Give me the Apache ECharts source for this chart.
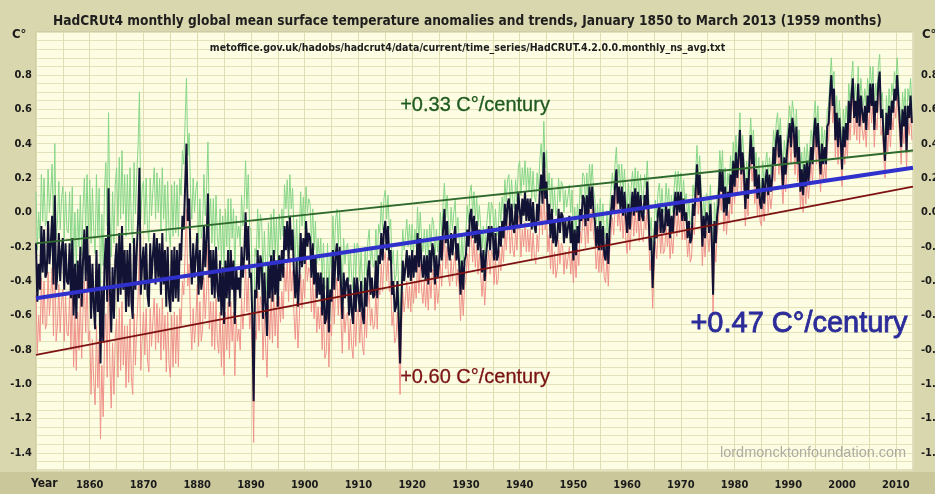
<!DOCTYPE html>
<html><head><meta charset="utf-8">
<script src="https://cdn.jsdelivr.net/npm/echarts@6/dist/echarts.min.js"></script>
<style>html,body{margin:0;padding:0;background:#d9d7ae}#c{width:935px;height:494px}</style>
</head><body><div id="c"></div>
<script>
// ---- data (quarterly estimates of the monthly anomaly band) ----
const startYear = 1850;
const perYear = 4;
const anom1850 = [
-0.18,-0.52,-0.30,-0.45, -0.08,-0.35,-0.10,-0.38, -0.35,-0.05,-0.30,-0.18, -0.02,-0.42,0.10,-0.45,
-0.35,-0.12,-0.40,-0.22, -0.15,-0.45,-0.18,-0.40, -0.42,-0.18,-0.50,-0.15, -0.60,-0.30,-0.62,-0.28,
-0.50,-0.20,-0.55,-0.28, -0.10,-0.40,-0.08,-0.45,
-0.25,-0.62,-0.30,-0.55, -0.68,-0.22,-0.58,-0.30, -0.88,-0.45,-0.75,-0.30, -0.15,-0.52,0.14,-0.45,
-0.70,-0.32,-0.62,-0.28, -0.18,-0.52,-0.12,-0.48, -0.08,-0.45,-0.22,-0.58, -0.22,-0.55,-0.18,-0.52,
-0.62,-0.15,-0.45,-0.22, -0.05,0.26,-0.48,-0.30,
-0.20,-0.45,-0.18,-0.48, -0.55,-0.18,-0.40,-0.25, -0.12,-0.42,-0.15,-0.38, -0.18,-0.48,-0.12,-0.42,
-0.22,-0.55,-0.20,-0.50, -0.58,-0.22,-0.52,-0.20, -0.50,-0.22,-0.52,-0.18, -0.28,-0.02,-0.10,0.15,
0.40,-0.05,0.08,-0.25, -0.42,-0.18,-0.38,-0.25,
-0.12,-0.48,-0.22,-0.45, -0.38,-0.08,-0.32,-0.15, 0.11,-0.38,-0.22,-0.48, -0.22,-0.50,-0.20,-0.45,
-0.52,-0.28,-0.60,-0.32, -0.65,-0.28,-0.50,-0.22, -0.55,-0.22,-0.45,-0.28, -0.65,-0.32,-0.45,-0.38,
-0.50,-0.20,-0.38,-0.25, 0.00,-0.28,-0.08,-0.38
];
const anom1890 = [
-0.35,-0.60,-1.10,-0.45, -0.50,-0.22,-0.45,-0.25, -0.30,-0.62,-0.35,-0.55, -0.72,-0.30,-0.50,-0.25,
-0.52,-0.22,-0.48,-0.28, -0.55,-0.25,-0.40,-0.22, -0.38,-0.08,-0.22,-0.05, -0.28,-0.02,-0.22,-0.10,
-0.35,-0.50,-0.28,-0.55, -0.38,-0.12,-0.32,-0.15,
-0.30,-0.05,-0.20,-0.12, -0.15,-0.38,-0.18,-0.42, -0.25,-0.50,-0.35,-0.48, -0.35,-0.60,-0.38,-0.65,
-0.62,-0.38,-0.70,-0.45, -0.52,-0.22,-0.45,-0.25, -0.18,-0.40,-0.20,-0.42, -0.62,-0.35,-0.50,-0.40,
-0.38,-0.60,-0.42,-0.58, -0.65,-0.38,-0.58,-0.38,
-0.38,-0.58,-0.40,-0.60, -0.65,-0.38,-0.55,-0.35, -0.28,-0.48,-0.38,-0.50, -0.48,-0.28,-0.50,-0.25,
-0.30,-0.12,-0.28,-0.10, -0.05,-0.22,-0.08,-0.28, -0.22,-0.48,-0.40,-0.58, -0.55,-0.40,-0.62,-0.88,
-0.52,-0.28,-0.40,-0.32, -0.22,-0.38,-0.25,-0.40,
-0.22,-0.38,-0.25,-0.35, -0.12,-0.32,-0.15,-0.30, -0.38,-0.25,-0.40,-0.25, -0.42,-0.22,-0.35,-0.18,
-0.22,-0.42,-0.25,-0.38, -0.30,-0.15,-0.28,-0.10, 0.02,-0.18,-0.05,-0.22, -0.28,-0.12,-0.25,-0.15,
-0.08,-0.28,-0.18,-0.30, -0.48,-0.28,-0.45,-0.28
];
const anom1930 = [
-0.25,-0.10,-0.20,-0.02, 0.02,-0.15,-0.02,-0.18, -0.05,-0.22,-0.10,-0.22, -0.35,-0.22,-0.40,-0.25,
-0.25,-0.08,-0.22,-0.08, -0.12,-0.28,-0.12,-0.28, -0.25,-0.08,-0.20,-0.05, -0.15,0.05,-0.08,0.05,
0.08,-0.10,0.05,-0.08, -0.12,0.05,-0.08,0.12,
0.12,-0.08,0.08,-0.02, 0.12,-0.05,0.08,-0.05, 0.08,-0.10,0.06,-0.08, -0.12,0.05,-0.05,0.12,
0.22,0.05,0.35,0.08, 0.18,-0.05,0.05,-0.15, 0.02,-0.18,-0.05,-0.20, -0.15,0.02,-0.12,0.00,
-0.02,-0.18,-0.05,-0.15, -0.15,-0.02,-0.18,-0.05,
-0.28,-0.10,-0.25,-0.08, -0.18,0.02,-0.05,0.10, 0.08,-0.08,0.10,-0.05, 0.15,0.02,0.15,0.00,
-0.05,-0.20,-0.08,-0.22, -0.05,-0.22,-0.08,-0.25, -0.28,-0.12,-0.30,-0.10, -0.10,0.10,0.00,0.15,
0.25,0.05,0.15,0.02, 0.15,-0.02,0.12,-0.02,
-0.12,0.05,-0.10,0.02, 0.12,-0.02,0.14,0.00, 0.12,-0.05,0.10,-0.02, -0.05,0.10,0.02,0.18,
-0.02,-0.22,-0.15,-0.44, -0.22,-0.05,-0.15,0.00, 0.05,-0.12,0.02,-0.12, -0.10,0.05,-0.08,0.02,
-0.15,-0.02,-0.12,0.02, 0.12,-0.02,0.12,0.00
];
const anom1970 = [
0.12,-0.05,0.08,-0.05, 0.00,-0.15,-0.05,-0.18, -0.15,0.05,-0.02,0.12, 0.28,0.10,0.22,0.05,
-0.20,-0.02,-0.15,0.00, -0.02,-0.12,0.05,-0.15, -0.48,-0.05,-0.18,-0.02, 0.05,0.25,0.12,0.25,
0.00,0.15,-0.02,0.12, 0.05,0.22,0.10,0.30,
0.15,0.35,0.20,0.32, 0.48,0.22,0.35,0.22, 0.02,0.20,0.08,0.28, 0.45,0.28,0.38,0.15,
0.25,0.08,0.22,0.05, 0.02,0.20,0.05,0.18, 0.25,0.10,0.22,0.12, 0.20,0.38,0.28,0.42,
0.48,0.32,0.45,0.28, 0.15,0.32,0.22,0.35,
0.35,0.52,0.38,0.55, 0.48,0.32,0.50,0.28, 0.38,0.12,0.25,0.10, 0.28,0.15,0.30,0.18,
0.18,0.38,0.28,0.45, 0.55,0.38,0.52,0.35, 0.22,0.40,0.28,0.38, 0.28,0.50,0.52,0.68,
0.80,0.62,0.72,0.42, 0.58,0.38,0.55,0.42,
0.25,0.50,0.38,0.52, 0.42,0.65,0.52,0.68, 0.78,0.55,0.65,0.52, 0.75,0.50,0.68,0.58,
0.52,0.62,0.48,0.68, 0.58,0.75,0.62,0.75, 0.48,0.65,0.58,0.75, 0.82,0.55,0.60,0.42,
0.30,0.58,0.45,0.62, 0.48,0.65,0.58,0.72,
0.65,0.80,0.65,0.52, 0.38,0.60,0.50,0.62, 0.35,0.62,0.55,0.68, 0.52
];
// half-width of the uncertainty band (green = upper, red = lower), one value per decade from 1850
const bandHalfWidth = [0.30,0.44,0.38,0.30,0.24,0.20,0.18,0.15,0.14,0.18,0.13,0.12,0.11,0.10,0.10,0.10,0.10];
const xTickLabels = [1860,1870,1880,1890,1900,1910,1920,1930,1940,1950,1960,1970,1980,1990,2000,2010];
const yTickLabels = [0.8,0.6,0.4,0.2,0.0,-0.2,-0.4,-0.6,-0.8,-1.0,-1.2,-1.4];
const trendYears = [1850, 2013.2];
const trendUpper = [-0.18, 0.36];   // +0.33 C°/century
const trendMid   = [-0.50, 0.26];   // +0.47 C°/century
const trendLower = [-0.83, 0.15];   // +0.60 C°/century

// ---- build series ----
const anomaly = [].concat(anom1850, anom1890, anom1930, anom1970);
const mid = [], upper = [], lower = [];
anomaly.forEach((v, i) => {
  const yr = startYear + i / perYear;
  const u = bandHalfWidth[Math.min(bandHalfWidth.length - 1, Math.floor((yr - startYear) / 10))];
  mid.push([yr, v]);
  upper.push([yr, +(v + u).toFixed(2)]);
  lower.push([yr, +(v - u).toFixed(2)]);
});
const pairs = ys => trendYears.map((x, i) => [x, ys[i]]);

const COND = '"DejaVu Sans Condensed","Liberation Sans Narrow",sans-serif';
const SANS = '"Liberation Sans",Arial,sans-serif';

const chart = echarts.init(document.getElementById('c'), null, {renderer: 'canvas'});
const yAxisBase = {
  type: 'value', min: -1.5, max: 1.05, interval: 0.05,
  axisLine: {show: false}, axisTick: {show: false},
  splitLine: {show: true, lineStyle: {color: '#e4e2b8', width: 1}},
  axisLabel: {customValues: yTickLabels, formatter: v => v.toFixed(1),
    color: '#1a1a1a', fontFamily: COND, fontWeight: 'bold', fontSize: 11}
};
chart.setOption({
  animation: false,
  backgroundColor: '#d9d7ae',
  title: {
    text: 'HadCRUt4 monthly global mean surface temperature anomalies and trends, January 1850 to March 2013 (1959 months)',
    left: 'center', top: 9,
    textStyle: {fontFamily: COND, fontWeight: 'bold', fontSize: 13.6, color: '#1e1e1e'}
  },
  grid: {left: 36, right: 22, top: 32, bottom: 24, show: true, containLabel: false, outerBoundsMode: 'none',
    backgroundColor: '#fdfde4', borderColor: '#c2c1a4', borderWidth: 1},
  xAxis: {
    type: 'value', min: 1850, max: 2013.2, interval: 5,
    axisLine: {show: false}, axisTick: {show: false},
    splitLine: {show: true, lineStyle: {color: '#e0deb2', width: 1}},
    axisLabel: {customValues: xTickLabels, formatter: v => String(v), margin: 10,
      color: '#1a1a1a', fontFamily: COND, fontWeight: 'bold', fontSize: 11}
  },
  yAxis: [
    Object.assign({}, yAxisBase, {position: 'left', axisLabel: Object.assign({}, yAxisBase.axisLabel, {margin: 4})}),
    Object.assign({}, yAxisBase, {position: 'right', splitLine: {show: false},
      axisLabel: Object.assign({}, yAxisBase.axisLabel, {margin: 8})})
  ],
  graphic: [
    {type: 'rect', silent: true, z: -1, shape: {x: 0, y: 472, width: 935, height: 22}, style: {fill: '#cac89b'}},
    {type: 'text', left: 12, top: 28, style: {text: 'C°', font: 'bold 13px ' + COND, fill: '#1a1a1a'}},
    {type: 'text', left: 922, top: 28, style: {text: 'C°', font: 'bold 13px ' + COND, fill: '#1a1a1a'}},
    {type: 'text', left: 31, top: 478, style: {text: 'Year', font: 'bold 12px ' + COND, fill: '#1a1a1a'}},
    {type: 'text', left: 'center', top: 43, z: 10,
      style: {text: 'metoffice.gov.uk/hadobs/hadcrut4/data/current/time_series/HadCRUT.4.2.0.0.monthly_ns_avg.txt',
        font: 'bold 10.5px ' + COND, fill: '#1e1e1e'}},
    {type: 'text', left: 400, top: 95, z: 10, style: {text: '+0.33 C°/century', font: '20px ' + SANS, fill: '#1f5a1f', stroke: '#1f5a1f', lineWidth: 0.3}},
    {type: 'text', left: 400, top: 367, z: 10, style: {text: '+0.60 C°/century', font: '20px ' + SANS, fill: '#7a1414', stroke: '#7a1414', lineWidth: 0.3}},
    {type: 'text', left: 690, top: 309, z: 10, style: {text: '+0.47 C°/century', font: '29px ' + SANS, fill: '#2b2b9a', stroke: '#2b2b9a', lineWidth: 0.8}},
    {type: 'text', left: 720, top: 445, z: 10, style: {text: 'lordmoncktonfoundation.com', font: '14.5px ' + SANS, fill: '#adaca0'}}
  ],
  series: [
    {type: 'line', name: 'upper', data: upper, showSymbol: false, z: 1,
      lineStyle: {color: '#88d688', width: 1}},
    {type: 'line', name: 'lower', data: lower, showSymbol: false, z: 1,
      lineStyle: {color: '#f0928a', width: 1}},
    {type: 'line', name: 'anomaly', data: mid, showSymbol: false, z: 2,
      lineStyle: {color: '#121234', width: 2}},
    {type: 'line', name: 'trend upper', data: pairs(trendUpper), showSymbol: false, z: 3,
      lineStyle: {color: '#2e6a2e', width: 1.8}},
    {type: 'line', name: 'trend lower', data: pairs(trendLower), showSymbol: false, z: 3,
      lineStyle: {color: '#7e1212', width: 1.8}},
    {type: 'line', name: 'trend', data: pairs(trendMid), showSymbol: false, z: 3,
      lineStyle: {color: '#3030cc', width: 4}}
  ]
});
</script></body></html>
